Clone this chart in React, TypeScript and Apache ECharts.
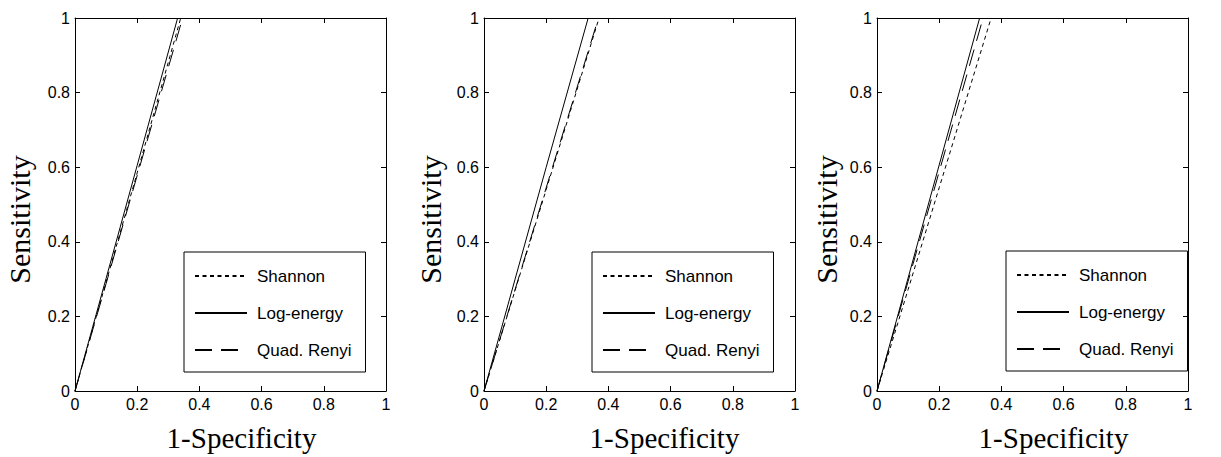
import React, { useEffect, useRef } from "react";
import * as echarts from "echarts";

const seriesNames = ["Shannon", "Log-energy", "Quad. Renyi"];

// ROC curves [1-specificity, sensitivity] for each panel
const panel1Shannon = [[0, 0], [0.1, 0.292], [0.2, 0.585], [0.34, 1]];
const panel1LogEnergy = [[0, 0], [0.1, 0.302], [0.2, 0.605], [0.33, 1]];
const panel1Renyi = [[0, 0], [0.1, 0.288], [0.2, 0.578], [0.346, 1]];

const panel2Shannon = [[0, 0], [0.1, 0.27], [0.2, 0.54], [0.37, 1]];
const panel2LogEnergy = [[0, 0], [0.1, 0.3], [0.2, 0.6], [0.335, 1]];
const panel2Renyi = [[0, 0], [0.1, 0.272], [0.2, 0.545], [0.368, 1]];

const panel3Shannon = [[0, 0], [0.1, 0.272], [0.2, 0.545], [0.367, 1]];
const panel3LogEnergy = [[0, 0], [0.1, 0.303], [0.2, 0.606], [0.33, 1]];
const panel3Renyi = [[0, 0], [0.1, 0.294], [0.2, 0.588], [0.341, 1]];

const panels = [
  [panel1Shannon, panel1LogEnergy, panel1Renyi],
  [panel2Shannon, panel2LogEnergy, panel2Renyi],
  [panel3Shannon, panel3LogEnergy, panel3Renyi],
];

const gridLefts = [75, 484, 877];
const xNameShift = [11, 25, 21];
const yNameGap = [41, 39, 36];
const legendPos = [
  { left: 184, top: 252 },
  { left: 592, top: 252 },
  { left: 1006, top: 251 },
];
const lineTypes: any[] = [[4, 3.5], "solid", [17, 9]];

export default function App() {
  const ref = useRef<HTMLDivElement>(null);
  useEffect(() => {
    if (!ref.current) return;
    const chart = echarts.init(ref.current, undefined, { renderer: "svg" });
    const sans = "'Liberation Sans', Arial, sans-serif";
    const serif = "'Liberation Serif', 'Times New Roman', serif";
    const grid = gridLefts.map((l) => ({ left: l, top: 18, width: 311, height: 377 }));
    const xAxis: any[] = [];
    const yAxis: any[] = [];
    gridLefts.forEach((_, i) => {
      const base = {
        gridIndex: i,
        type: "value",
        min: 0,
        max: 1,
        interval: 0.2,
        splitLine: { show: false },
        axisLine: { show: true, onZero: false, lineStyle: { color: "#000", width: 1 } },
        axisTick: { show: true, inside: true, length: 5, lineStyle: { color: "#000" } },
      };
      xAxis.push({
        ...base,
        position: "bottom",
        name: "1-Specificity",
        nameLocation: "middle",
        nameGap: 32,
        nameTextStyle: {
          fontFamily: serif,
          fontSize: 29,
          color: "#000",
          padding: [0, 0, 0, xNameShift[i] * 2],
        },
        axisLabel: { fontFamily: sans, fontSize: 16, color: "#000", margin: 5 },
      });
      xAxis.push({ ...base, position: "top", axisLabel: { show: false } });
      yAxis.push({
        ...base,
        position: "left",
        name: "Sensitivity",
        nameLocation: "middle",
        nameGap: yNameGap[i],
        nameTextStyle: {
          fontFamily: serif,
          fontSize: 30,
          color: "#000",
          padding: [0, 30, 0, 0],
        },
        axisLabel: { fontFamily: sans, fontSize: 16, color: "#000", margin: 5 },
      });
      yAxis.push({ ...base, position: "right", axisLabel: { show: false } });
    });
    const series: any[] = [];
    panels.forEach((p, i) => {
      p.forEach((data, j) => {
        series.push({
          type: "line",
          name: seriesNames[j],
          xAxisIndex: i * 2,
          yAxisIndex: i * 2,
          data,
          showSymbol: false,
          symbol: "none",
          lineStyle: { color: "#000", width: 1, type: lineTypes[j] },
          itemStyle: { color: "#000" },
        });
      });
    });
    const legend = legendPos.map((pos) => ({
      ...pos,
      orient: "vertical",
      data: seriesNames,
      itemWidth: 52,
      itemHeight: 14,
      itemGap: 19,
      padding: [15, 14, 13, 10],
      borderColor: "#000",
      borderWidth: 1,
      selectedMode: false,
      itemStyle: { opacity: 0 },
      textStyle: {
        fontFamily: sans,
        fontSize: 17,
        lineHeight: 18,
        color: "#000",
        padding: [0, 0, 0, 5],
      },
    }));
    chart.setOption({
      animation: false,
      backgroundColor: "#fff",
      grid,
      xAxis,
      yAxis,
      series,
      legend,
    });
    return () => chart.dispose();
  }, []);
  return (
    <div
      ref={ref}
      style={{ position: "fixed", left: 0, top: 0, width: 1221, height: 457 }}
    />
  );
}
